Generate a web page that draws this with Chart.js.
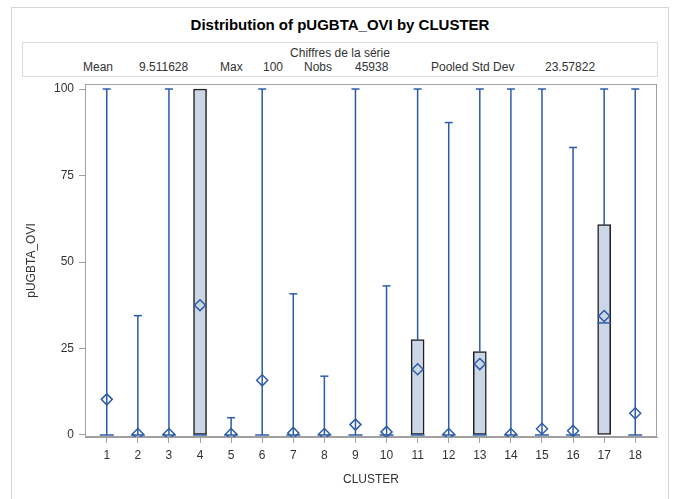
<!DOCTYPE html>
<html>
<head>
<meta charset="utf-8">
<script src="https://cdn.jsdelivr.net/npm/chart.js@4"></script>
<style>
  body { margin:0; background:#fff; }
  #wrap { position:relative; width:675px; height:499px; overflow:hidden; background:#fff; font-family:'Liberation Sans', Arial, sans-serif; color:#333; }
  .frame { position:absolute; left:11px; top:7px; width:656px; height:600px; border:1px solid #d6d6d6; }
  .title { position:absolute; left:0; top:16px; width:680px; text-align:center; font-weight:bold; font-size:15px; color:#000; }
  .stats { position:absolute; left:22px; top:42px; width:634px; height:33px; border:1px solid #dcdcdc; font-size:12px; }
  .stats .hd { position:absolute; left:0; top:3px; width:634px; text-align:center; }
  .stats span { position:absolute; top:17px; white-space:nowrap; }
  canvas { position:absolute; left:0; top:0; }
</style>
</head>
<body>
<div id="wrap">
  <div class="frame"></div>
  <div class="title">Distribution of pUGBTA_OVI by CLUSTER</div>
  <div class="stats">
    <div class="hd">Chiffres de la série</div>
    <span style="left:60px">Mean</span>
    <span style="left:116px">9.511628</span>
    <span style="left:197px">Max</span>
    <span style="left:240px">100</span>
    <span style="left:281px">Nobs</span>
    <span style="left:332px">45938</span>
    <span style="left:408px">Pooled Std Dev</span>
    <span style="left:522px">23.57822</span>
  </div>
  <canvas id="chart" width="675" height="499"></canvas>
</div>
<script>
const clusters = [1,2,3,4,5,6,7,8,9,10,11,12,13,14,15,16,17,18];
const q1     = [0,0,0,0,0,0,0,0,0,0,0,0,0,0,0,0,0,0];
const median = [0,0,0,0,0,0,0,0,0,0,0,0,0,0,0,0,32.4,0];
const q3     = [0,0,0,100,0,0,0,0,0,0,27.6,0,24.1,0,0,0,60.8,0];
const maxs   = [100,34.5,100,100,5,100,40.8,17,100,43.1,100,90.3,100,100,100,83.1,100,100];
const means  = [10.3,0.3,0.3,37.5,0.3,15.8,0.6,0.3,3.0,0.9,19.0,0.3,20.5,0.3,1.8,1.2,34.4,6.3];
const yTicks = [0,25,50,75,100];

const BLUE = '#2c5bab';
const FONT = "'Liberation Sans', Arial, sans-serif";

// boxes only where q3 > q1
const boxes = [];
clusters.forEach((c,i)=>{ if (q3[i] > q1[i]) boxes.push({x:c, y:[q1[i], q3[i]]}); });
// upper whiskers, broken with null
const whisk = [];
clusters.forEach((c,i)=>{ if (maxs[i] > q3[i]) { whisk.push({x:c,y:q3[i]},{x:c,y:maxs[i]},{x:c,y:null}); } });
const caps = [];
clusters.forEach((c,i)=>{ if (maxs[i] > q3[i]) caps.push({x:c, y:maxs[i]}); });
const meds = clusters.map((c,i)=>({x:c, y:median[i]}));
const mns = clusters.map((c,i)=>({x:c, y:means[i]}));

const frame = {
  id:'frame',
  beforeDatasetsDraw(chart){
    const a = chart.chartArea, ctx = chart.ctx;
    ctx.save(); ctx.strokeStyle = '#a0a0a0'; ctx.lineWidth = 1;
    ctx.strokeRect(Math.round(a.left)+0.5, Math.round(a.top)+0.5, Math.round(a.right-a.left)-1, Math.round(a.bottom-a.top)-1);
    ctx.restore();
  }
};

new Chart(document.getElementById('chart'), {
  type:'bar',
  data:{ datasets:[
    { type:'line', data:whisk, showLine:true, spanGaps:false, borderColor:BLUE, borderWidth:1.5, pointRadius:0, order:5 },
    { type:'bar', data:boxes, backgroundColor:'#cbd6e6', borderColor:'#1e1e1e', borderWidth:1.5, borderSkipped:false, barThickness:13, order:4 },
    { type:'line', data:caps, showLine:false, pointStyle:'line', pointRadius:4, borderColor:BLUE, borderWidth:1.5, order:3 },
    { type:'line', data:meds, showLine:false, pointStyle:'line', pointRadius:7, borderColor:BLUE, borderWidth:1.5, order:2 },
    { type:'line', data:mns, showLine:false, pointStyle:'rectRot', pointRadius:5.5, borderColor:BLUE, backgroundColor:'rgba(0,0,0,0)', borderWidth:1.5, order:1 }
  ]},
  options:{
    responsive:false, animation:false,
    layout:{ padding:{ left:20, top:84, right:18, bottom:10 } },
    plugins:{ legend:{display:false}, tooltip:{enabled:false} },
    scales:{
      x:{ type:'linear', min:0.3, max:18.7, offset:false,
        afterBuildTicks: s=>{ s.ticks = clusters.map(v=>({value:v})); },
        afterFit: s=>{ s.height = 52; },
        grid:{ drawOnChartArea:false, offset:false, tickLength:6, color:'#a0a0a0', tickColor:'#a0a0a0' },
        border:{ color:'#a0a0a0' },
        ticks:{ color:'#333', font:{family:FONT, size:12}, padding:5, maxRotation:0, autoSkip:false },
        title:{ display:true, text:'CLUSTER', color:'#333', font:{family:FONT, size:12}, padding:{top:4,bottom:2} }
      },
      y:{ type:'linear', min:-0.58, max:101.45,
        afterBuildTicks: s=>{ s.ticks = yTicks.map(v=>({value:v})); },
        afterFit: s=>{ s.width = 65; },
        grid:{ drawOnChartArea:false, tickLength:6, color:'#a0a0a0', tickColor:'#a0a0a0' },
        border:{ color:'#a0a0a0' },
        ticks:{ color:'#333', font:{family:FONT, size:12}, padding:5 },
        title:{ display:true, text:'pUGBTA_OVI', color:'#333', font:{family:FONT, size:12}, padding:{top:4,bottom:4} }
      }
    }
  },
  plugins:[frame]
});
</script>
</body>
</html>
